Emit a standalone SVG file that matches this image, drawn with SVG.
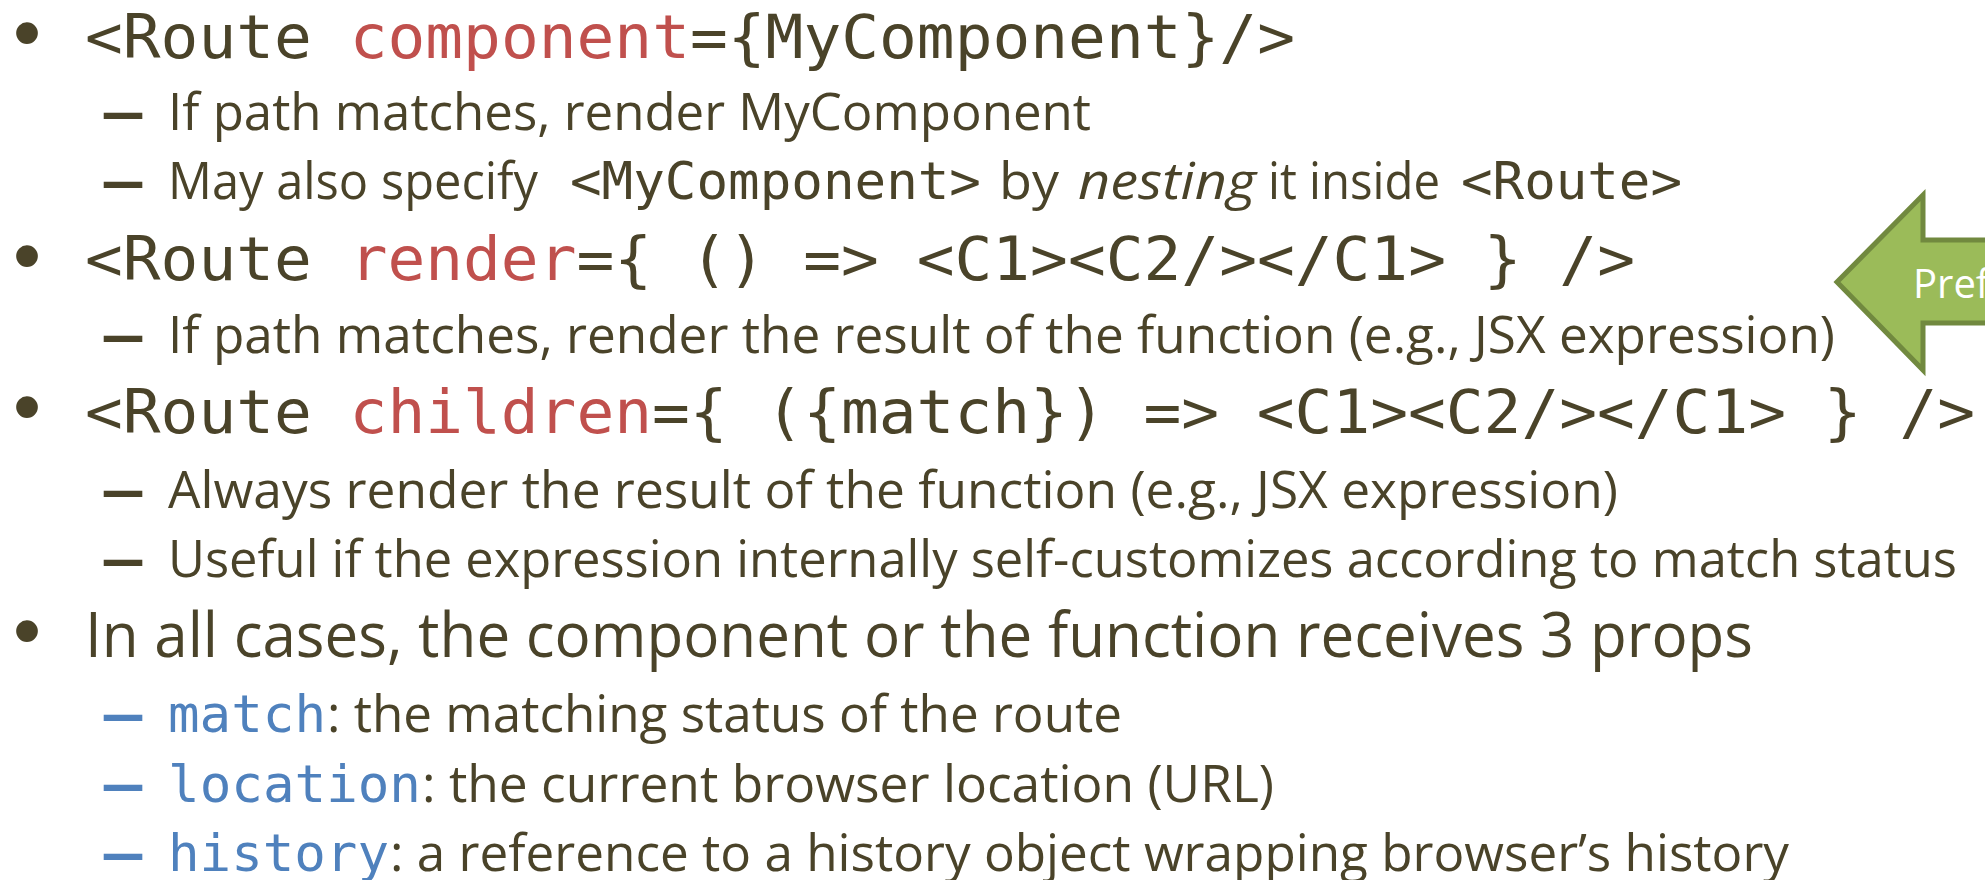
<svg xmlns="http://www.w3.org/2000/svg" width="1985" height="880" viewBox="0 0 1985 880">
<style>
.t{fill:#4A4329}
.b1{font-family:"Open Sans","Noto Sans",sans-serif;font-size:62px}
.b2{font-family:"Open Sans","Noto Sans",sans-serif;font-size:52px}
.m1{font-family:"DejaVu Sans Mono","Liberation Mono",monospace;font-size:60px}
.m2{font-family:"DejaVu Sans Mono","Liberation Mono",monospace;font-size:52px}
.bul{font-family:"Liberation Sans",Arial,sans-serif;font-size:80px;fill:#4A4329}
.dash{font-family:"Open Sans","Noto Sans",sans-serif;font-size:56px;stroke-width:2.2}
.dt{fill:#4A4329;stroke:#4A4329}
.db{fill:#4F81BD;stroke:#4F81BD}
.red{fill:#C0504D}
.blue{fill:#4F81BD}
</style>
<rect width="1985" height="880" fill="#FFFFFF"/>

<g id="arrow">
<polygon points="1837,282 1923,195 1923,240 1995,240 1995,323 1923,323 1923,370" fill="#9BBB59" stroke="#71893F" stroke-width="5" stroke-linejoin="miter"/>
<text x="1913" y="298" font-family="Open Sans, Noto Sans, sans-serif" font-size="40" fill="#FFFFFF">Pref</text>
</g>

<g id="line1">
<text class="bul" x="13" y="60">•</text>
<text class="m1 t" x="85" y="58" textLength="1210" lengthAdjust="spacingAndGlyphs">&lt;Route <tspan class="red">component</tspan>={MyComponent}/&gt;</text>
</g>
<g id="line2">
<text class="dash dt" x="102" y="131" textLength="42" lengthAdjust="spacingAndGlyphs">–</text>
<text class="b2 t" x="168" y="130" textLength="923" lengthAdjust="spacingAndGlyphs">If path matches, render MyComponent</text>
</g>
<g id="line3">
<text class="dash dt" x="102" y="200" textLength="42" lengthAdjust="spacingAndGlyphs">–</text>
<text class="b2 t" x="168" y="199" textLength="370" lengthAdjust="spacingAndGlyphs">May also specify</text>
<text class="m2 t" x="570" y="199" textLength="411" lengthAdjust="spacingAndGlyphs">&lt;MyComponent&gt;</text>
<text class="b2 t" x="999" y="199" textLength="60" lengthAdjust="spacingAndGlyphs">by</text>
<text class="b2 t" x="1078" y="199" textLength="178" lengthAdjust="spacingAndGlyphs" font-style="italic">nesting</text>
<text class="b2 t" x="1268" y="199" textLength="172" lengthAdjust="spacingAndGlyphs">it inside</text>
<text class="m2 t" x="1461" y="199" textLength="221" lengthAdjust="spacingAndGlyphs">&lt;Route&gt;</text>
</g>
<g id="line4">
<text class="bul" x="13" y="283">•</text>
<text class="m1 t" x="85" y="280" textLength="1550" lengthAdjust="spacingAndGlyphs">&lt;Route <tspan class="red">render</tspan>={ () =&gt; &lt;C1&gt;&lt;C2/&gt;&lt;/C1&gt; } /&gt;</text>
</g>
<g id="line5">
<text class="dash dt" x="102" y="354" textLength="42" lengthAdjust="spacingAndGlyphs">–</text>
<text class="b2 t" x="168" y="353" textLength="1667" lengthAdjust="spacingAndGlyphs">If path matches, render the result of the function (e.g., JSX expression)</text>
</g>
<g id="line6">
<text class="bul" x="13" y="434">•</text>
<text class="m1 t" x="85" y="433" textLength="1890" lengthAdjust="spacingAndGlyphs">&lt;Route <tspan class="red">children</tspan>={ ({match}) =&gt; &lt;C1&gt;&lt;C2/&gt;&lt;/C1&gt; } /&gt;</text>
</g>
<g id="line7">
<text class="dash dt" x="102" y="509" textLength="42" lengthAdjust="spacingAndGlyphs">–</text>
<text class="b2 t" x="168" y="508" textLength="1450" lengthAdjust="spacingAndGlyphs">Always render the result of the function (e.g., JSX expression)</text>
</g>
<g id="line8">
<text class="dash dt" x="102" y="578" textLength="42" lengthAdjust="spacingAndGlyphs">–</text>
<text class="b2 t" x="168" y="577" textLength="1789" lengthAdjust="spacingAndGlyphs">Useful if the expression internally self-customizes according to match status</text>
</g>
<g id="line9">
<text class="bul" x="13" y="658">•</text>
<text class="b1 t" x="85" y="657" textLength="1668" lengthAdjust="spacingAndGlyphs">In all cases, the component or the function receives 3 props</text>
</g>
<g id="line10">
<text class="dash db" x="102" y="733" textLength="42" lengthAdjust="spacingAndGlyphs">–</text>
<text class="m2 blue" x="168" y="732" textLength="158" lengthAdjust="spacingAndGlyphs">match</text>
<text class="b2 t" x="327" y="732" textLength="795" lengthAdjust="spacingAndGlyphs">: the matching status of the route</text>
</g>
<g id="line11">
<text class="dash db" x="102" y="803" textLength="42" lengthAdjust="spacingAndGlyphs">–</text>
<text class="m2 blue" x="168" y="802" textLength="253" lengthAdjust="spacingAndGlyphs">location</text>
<text class="b2 t" x="422" y="802" textLength="852" lengthAdjust="spacingAndGlyphs">: the current browser location (URL)</text>
</g>
<g id="line12">
<text class="dash db" x="102" y="872" textLength="42" lengthAdjust="spacingAndGlyphs">–</text>
<text class="m2 blue" x="168" y="871" textLength="221" lengthAdjust="spacingAndGlyphs">history</text>
<text class="b2 t" x="390" y="871" textLength="1399" lengthAdjust="spacingAndGlyphs">: a reference to a history object wrapping browser’s history</text>
</g>
</svg>
